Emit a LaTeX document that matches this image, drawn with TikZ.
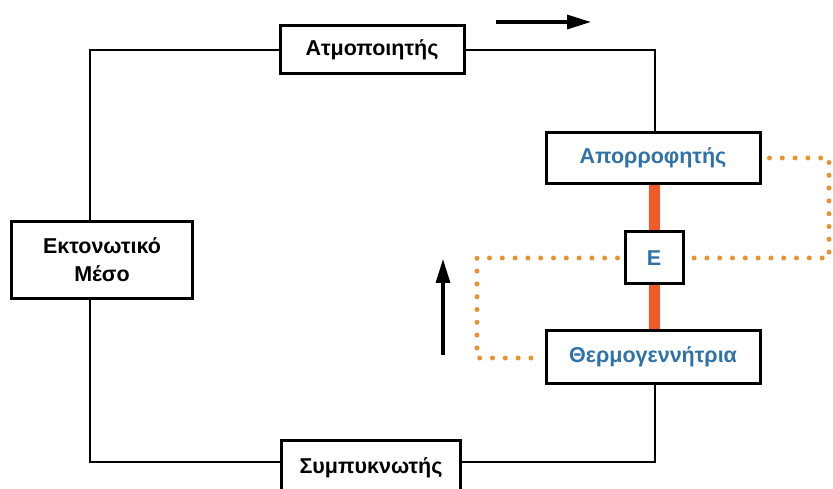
\documentclass[tikz,border=0pt]{standalone}
\usepackage{fontspec}
\setmainfont{Liberation Sans}
\usetikzlibrary{arrows.meta}
\definecolor{txtblue}{HTML}{2F72A8}
\definecolor{dotor}{HTML}{EA922E}
\definecolor{barred}{HTML}{F25A2A}
\begin{document}
\begin{tikzpicture}[x=1pt,y=-1pt,
  box/.style={draw=black,line width=3pt,fill=white,inner sep=0pt,font=\bfseries\fontsize{21.5}{25}\selectfont,align=center},
  conn/.style={line width=2.6pt},
  dots/.style={dotor,line width=5pt,line cap=round,dash pattern=on 0pt off 12.8pt},
  flow/.style={line width=3.2pt,-{Triangle[length=24pt,width=14pt]}}]
\useasboundingbox (0,0) rectangle (833,489);
\clip (0,0) rectangle (833,489);
% nodes
\node[box,minimum width=184pt,minimum height=48pt] (atm) at (372,50) {Ατμοποιητής};
\node[box,minimum width=214pt,minimum height=51pt,text=txtblue] (apo) at (653,158) {Απορροφητής};
\node[box,minimum width=58pt,minimum height=52pt,text=txtblue] (E) at (654,258) {Ε};
\node[box,minimum width=214pt,minimum height=53pt,text=txtblue] (ther) at (653,357) {Θερμογεννήτρια};
\node[box,minimum width=181pt,minimum height=76pt] (ekt) at (102,260) {Εκτονωτικό\\[3pt]Μέσο};
\node[box,minimum width=179pt,minimum height=56pt] (sym) at (371,468) {Συμπυκνωτής};
% coordinates
\coordinate (tl) at (90,50);
\coordinate (tr) at (655,50);
\coordinate (bl) at (90,462);
\coordinate (br) at (655,462);
\coordinate (d1) at (829,158);
\coordinate (d2) at (829,258);
\coordinate (d3) at (477,258);
\coordinate (d4) at (477,358);
% connectors
\draw[conn] (ekt.north -| tl) -- (tl) -- (atm.west);
\draw[conn] (atm.east) -- (tr) -- (apo.north -| tr);
\draw[conn] (ekt.south -| bl) -- (bl) -- (sym.west |- bl);
\draw[conn] (sym.east |- br) -- (br) -- (ther.south -| br);
% bars
\draw[barred,line width=11pt] (apo.south -| E.center) -- (E.north);
\draw[barred,line width=11pt] (E.south) -- (ther.north -| E.center);
% dotted
\draw[dots] (apo.east) ++(8,0) -- (d1) -- (d2) -- ([xshift=6pt]E.east);
\draw[dots] ([xshift=-6pt]E.west) -- (d3) -- (d4) -- ([xshift=-8pt]ther.west |- d4);
% flow arrows
\coordinate (a1) at (496,22); \coordinate (a2) at (591,22);
\draw[flow] (a1) -- (a2);
\coordinate (b1) at (443,355); \coordinate (b2) at (443,259);
\draw[flow] (b1) -- (b2);
\end{tikzpicture}
\end{document}
